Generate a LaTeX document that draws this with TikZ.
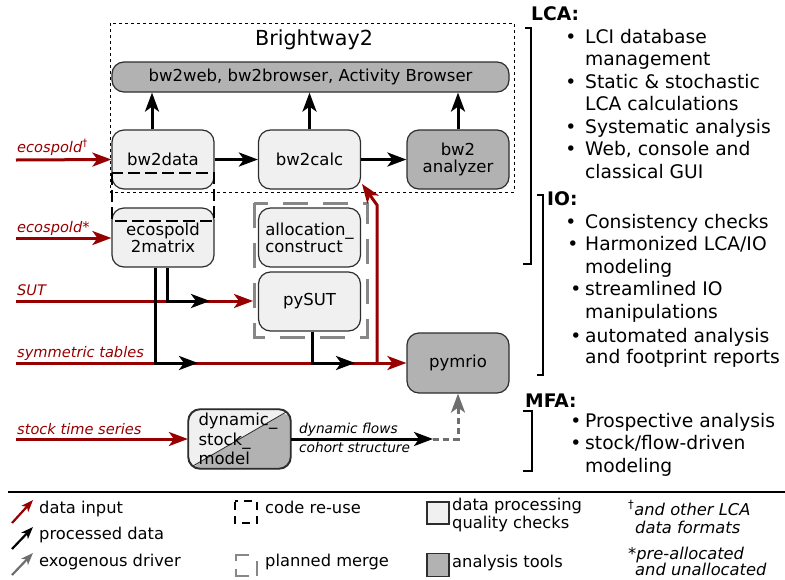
\documentclass[tikz,border=0pt]{standalone}
\usepackage{fontspec}
\setmainfont{DejaVu Sans}
\usetikzlibrary{arrows.meta,calc}
\definecolor{dred}{RGB}{150,0,0}
\definecolor{lightf}{RGB}{240,240,240}
\definecolor{darkf}{RGB}{178,178,178}
\definecolor{bord}{RGB}{45,45,45}
\definecolor{mgray}{RGB}{110,110,110}
\definecolor{pgray}{RGB}{135,135,135}
\begin{document}
\begin{tikzpicture}[x=1pt,y=-1pt,
  box/.style={draw=bord,line width=1.2pt,rounded corners=12pt,minimum width=102pt,minimum height=59pt,inner sep=0pt,align=center,font=\fontsize{16.5}{17}\selectfont},
  lbox/.style={box,fill=lightf},
  dbox/.style={box,fill=darkf},
  tipA/.style={-{Stealth[length=19pt,width=14pt,inset=5pt]}},
  tipB/.style={-{Stealth[length=12pt,width=9pt,inset=3pt]}},
  blk/.style={tipA,line width=3pt,black},
  redl/.style={tipA,line width=3pt,dred},
  rlab/.style={font=\fontsize{14.6}{16}\selectfont\itshape,text=dred,anchor=base west,inner sep=0pt},
  flab/.style={font=\fontsize{13.7}{15}\selectfont\itshape,anchor=base west,inner sep=0pt},
  rtxt/.style={font=\fontsize{18.7}{22}\selectfont,anchor=base west,inner sep=0pt},
  rhead/.style={font=\fontsize{18.7}{22}\selectfont\bfseries,anchor=base west,inner sep=0pt},
  bul/.style={font=\fontsize{18.7}{22}\selectfont,anchor=base,inner sep=0pt},
  ltxt/.style={font=\fontsize{16.3}{18}\selectfont,anchor=base west,inner sep=0pt},
  ntxt/.style={font=\fontsize{16.3}{18}\selectfont\itshape,anchor=base west,inner sep=0pt},
  brk/.style={line width=2.2pt,black},
]
\useasboundingbox (0,0) rectangle (785,579);

% Brightway2 frame
\draw[line width=1pt,dash pattern=on 3pt off 3pt] (110,23) rectangle (514,192);
\node[font=\fontsize{20.7}{22}\selectfont,inner sep=0pt] (bwt) at (314,40) {Brightway2};

% boxes
\node[dbox,minimum width=397pt,minimum height=30pt] (web) at (310.5,77) {bw2web, bw2browser, Activity Browser};
\node[lbox] (d) at (163,159.5) {bw2data};
\node[lbox] (c) at (309.5,159.5) {bw2calc};
\node[dbox] (an) at (458,159.5) {bw2\\analyzer};
\node[lbox] (e2m) at (163,237.5) {ecospold\\2matrix};
\node[lbox,align=left] (al) at (309.5,237.5) {allocation\_\\construct};
\node[lbox] (ps) at (309.5,301.5) {pySUT};
\node[dbox,minimum height=60pt] (pm) at (458,363) {pymrio};
\node[box,fill=lightf,align=left,text width=82pt,font=\fontsize{16.5}{19.5}\selectfont,
  path picture={\fill[darkf] (path picture bounding box.south west) -- (path picture bounding box.north east) -- (path picture bounding box.south east) -- cycle;
  \draw[line width=0.8pt] (path picture bounding box.south west) -- (path picture bounding box.north east);}]
  (dsm) at (239.5,439) {dynamic\_\\stock\_\\model};
\draw[draw=bord,line width=1.2pt,rounded corners=12pt] (dsm.south west) rectangle (dsm.north east);

% code re-use and planned merge
\draw[line width=2.2pt,dash pattern=on 12pt off 5pt] (112,173) rectangle (214,221);
\draw[pgray,line width=3pt,dash pattern=on 25pt off 15pt] (254,203) rectangle (367,337);

% red data inputs
\coordinate (s1) at (16,160);
\coordinate (s2) at (16,238);
\coordinate (s3) at (16,301);
\coordinate (s4) at (16,363);
\coordinate (s5) at (16,439);
\coordinate (sutend) at (253,301);
\coordinate (br0) at (377,363);
\coordinate (br1) at (377,205);
\coordinate (br2) at (362,184);
\draw[redl] (s1) -- (d.west);
\draw[redl] (s2) -- (e2m.west |- s2);
\draw[redl] (s3) -- (sutend);
\draw[redl] (s4) -- (pm.west);
\draw[redl] (s5) -- (dsm.west);
\draw[redl] (br0) -- (br1) -- (br2);
\node[rlab] (l1) at (17,152) {ecospold\textsuperscript{\upshape\textdagger}};
\node[rlab] (l2) at (17,232) {ecospold*};
\node[rlab] (l3) at (17,295) {SUT};
\node[rlab] (l4) at (17,357) {symmetric tables};
\node[rlab] (l5) at (17,434) {stock time series};

% processed data
\draw[blk] ([xshift=-11pt]d.north) -- ([xshift=-11pt]d.north |- web.south);
\draw[blk] (c.north) -- (c.north |- web.south);
\draw[blk] (an.north) -- (an.north |- web.south);
\draw[blk] (d.east) -- (c.west);
\draw[blk] (c.east) -- (an.west);
\coordinate (t1) at (198,363);
\coordinate (t2) at (210,301);
\coordinate (t3) at (355,363);
\draw[blk] ([xshift=-8pt]e2m.south) |- (t1);
\draw[blk] ([xshift=4pt]e2m.south) |- (t2);
\draw[blk] ([xshift=2.5pt]ps.south) |- (t3);

% dynamic flows
\coordinate (fe) at (433,439);
\draw[blk] (dsm.east) -- (fe);
\draw[mgray,line width=3pt,dash pattern=on 6pt off 4pt,tipA] (fe) -| (pm.south);
\node[flab] (f1) at (299,433) {dynamic flows};
\node[flab] (f2) at (299,452) {cohort structure};

% right side
\draw[brk] (525,28) -- (531,28) -- (531,264) -- (523,264);
\draw[brk] (537,195) -- (543,195) -- (543,375) -- (537,375);
\draw[brk] (523,411) -- (532,411) -- (532,471) -- (523,471);
\node[rhead] (hl) at (531,20) {LCA:};
\node[rhead] (hi) at (547,205) {IO:};
\node[rhead] (hm) at (525,407) {MFA:};
\node[rtxt] (r1) at (585,43) {LCI database};
\node[rtxt] (r2) at (585,65) {management};
\node[rtxt] (r3) at (585,88) {Static \& stochastic};
\node[rtxt] (r4) at (585,110) {LCA calculations};
\node[rtxt] (r5) at (585,133) {Systematic analysis};
\node[rtxt] (r6) at (585,155) {Web, console and};
\node[rtxt] (r7) at (585,178) {classical GUI};
\node[rtxt] (r8) at (585,228) {Consistency checks};
\node[rtxt] (r9) at (585,250) {Harmonized LCA/IO};
\node[rtxt] (r10) at (585,273) {modeling};
\node[rtxt] (r11) at (585,295) {streamlined IO};
\node[rtxt] (r12) at (585,318) {manipulations};
\node[rtxt] (r13) at (585,342) {automated analysis};
\node[rtxt] (r14) at (585,363) {and footprint reports};
\node[rtxt] (r15) at (585,427) {Prospective analysis};
\node[rtxt] (r16) at (585,449) {stock/flow-driven};
\node[rtxt] (r17) at (585,472) {modeling};
\foreach \xx/\yy [count=\i] in {571/43,571/88,571/133,571/155,571/228,573/250,576/295,576/342,576/427,576/449}
  \node[bul,name=b\i] at (\xx,\yy) {•};

% legend
\draw[line width=2pt] (8,492) -- (785,492);
\coordinate (a1) at (12,523); \coordinate (a2) at (33,500);
\coordinate (a3) at (12,549); \coordinate (a4) at (33,527);
\coordinate (a5) at (12,575); \coordinate (a6) at (33,553);
\draw[tipB,line width=2.2pt,dred] (a1) -- (a2);
\draw[tipB,line width=2.2pt,black] (a3) -- (a4);
\draw[tipB,line width=2.2pt,mgray] (a5) -- (a6);
\node[ltxt] (g1) at (39,513) {data input};
\node[ltxt] (g2) at (39,539) {processed data};
\node[ltxt] (g3) at (39,566) {exogenous driver};
\draw[line width=2pt,dash pattern=on 8pt off 6pt,dash phase=-1pt] (235,501) rectangle (257,523);
\node[ltxt] (g4) at (265,513) {code re-use};
\draw[pgray,line width=2.5pt] (236,561) -- (236,555) -- (249,555);
\draw[pgray,line width=2.5pt] (236,569) -- (236,576) -- (249,576);
\draw[pgray,line width=2.5pt] (257,561) -- (257,576);
\node[ltxt] (g5) at (265,566) {planned merge};
\node[draw=bord,fill=lightf,line width=1.2pt,minimum width=22pt,minimum height=22pt,inner sep=0pt] (k1) at (438,513) {};
\node[draw=bord,fill=darkf,line width=1.2pt,minimum width=22pt,minimum height=23pt,inner sep=0pt] (k2) at (438,565) {};
\node[ltxt] (g6) at (452,510) {data processing};
\node[ltxt] (g7) at (452,528) {quality checks};
\node[ltxt] (g8) at (452,567) {analysis tools};
\node[ntxt] (n1) at (628,515) {\textsuperscript{\upshape\textdagger}and other LCA};
\node[ntxt] (n2) at (635,533) {data formats};
\node[ntxt] (n3) at (628,559) {*pre-allocated};
\node[ntxt] (n4) at (635,575) {and unallocated};
\end{tikzpicture}
\end{document}
